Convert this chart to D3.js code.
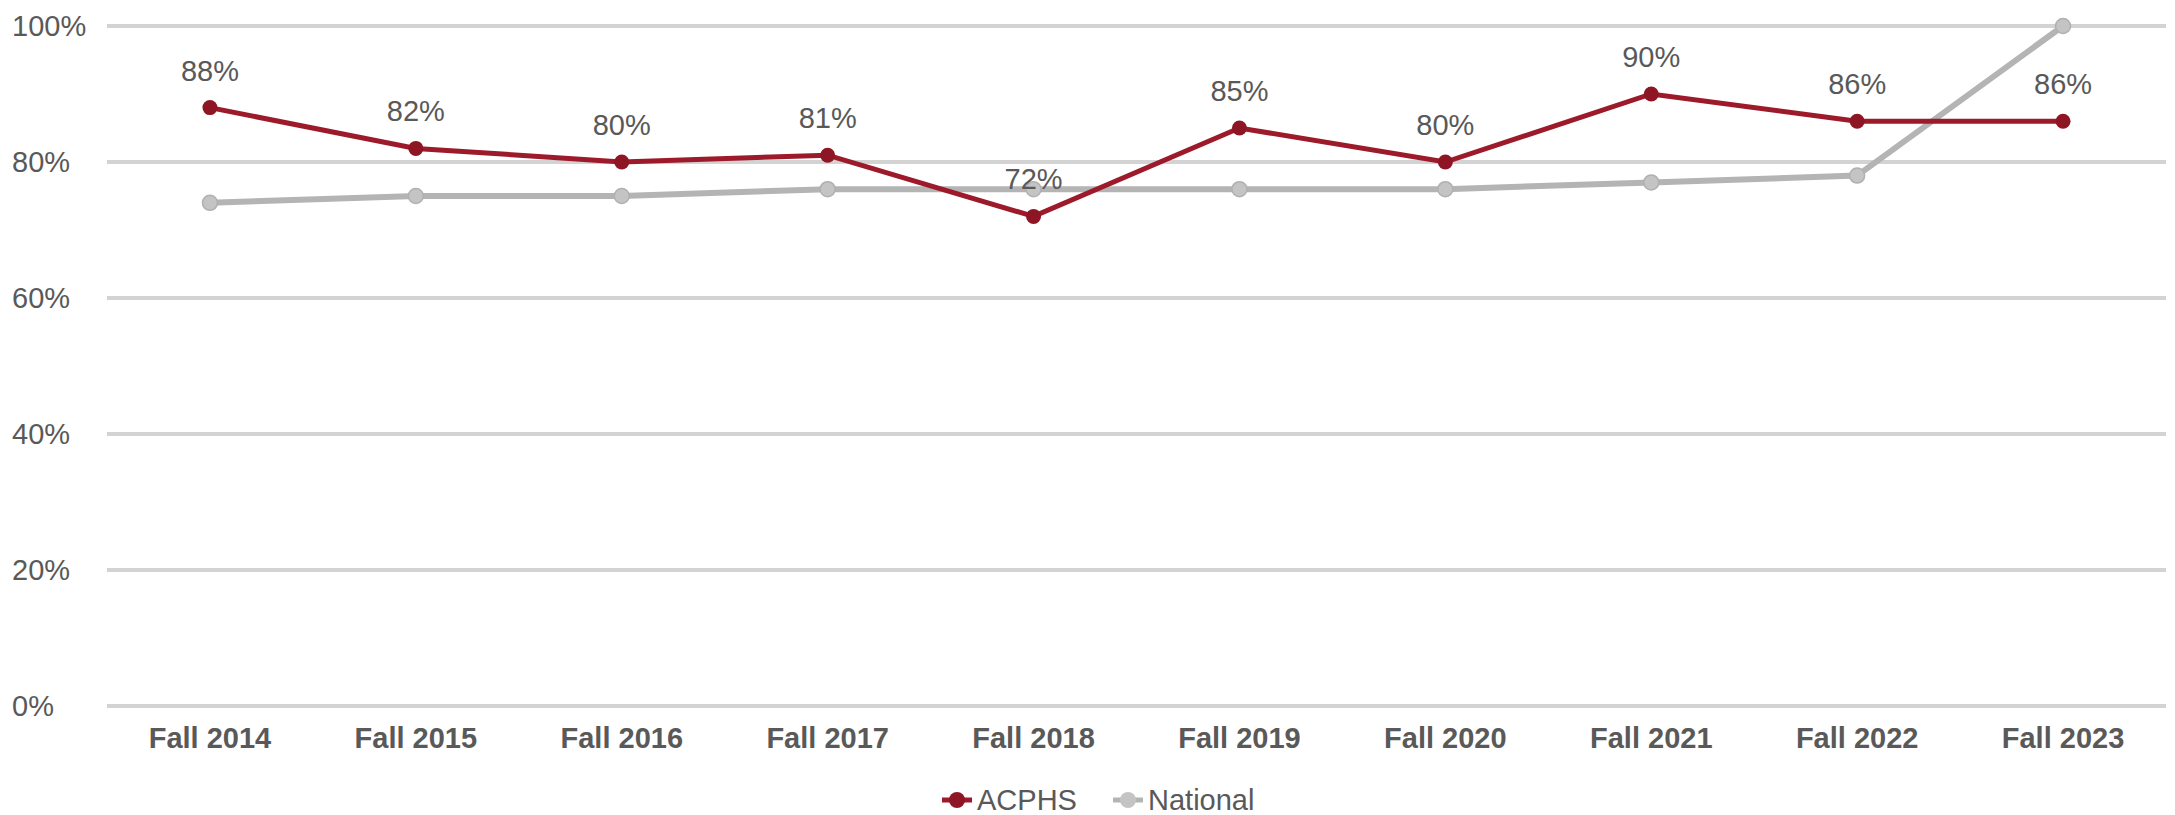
<!DOCTYPE html>
<html>
<head>
<meta charset="utf-8">
<script src="https://cdn.jsdelivr.net/npm/d3@7"></script>
<style>
  body { margin: 0; background: #fff; }
  text { font-family: "Liberation Sans", Arial, sans-serif; }
</style>
</head>
<body>
<div id="chart"></div>
<script>
// data
const terms = ["Fall 2014", "Fall 2015", "Fall 2016", "Fall 2017", "Fall 2018",
               "Fall 2019", "Fall 2020", "Fall 2021", "Fall 2022", "Fall 2023"];
const acphs = [88, 82, 80, 81, 72, 85, 80, 90, 86, 86];
const national = [74, 75, 75, 76, 76, 76, 76, 77, 78, 100];
const yTicks = [0, 20, 40, 60, 80, 100];

const W = 2175, H = 815;
const margin = { top: 26, right: 9, bottom: 109, left: 107 };
const width = W - margin.left - margin.right;
const height = H - margin.top - margin.bottom;

const red = "#9c1a2a", gray = "#b4b4b4", txt = "#595959";

const svg = d3.select("#chart").append("svg")
    .attr("width", W)
    .attr("height", H);

const g = svg.append("g")
    .attr("transform", "translate(" + margin.left + "," + margin.top + ")");

const x = d3.scaleBand().domain(terms).range([0, width]).padding(0);
const y = d3.scaleLinear().domain([0, 100]).range([height, 0]);
const cx = d => x(d) + x.bandwidth() / 2;

// gridlines
g.selectAll(".grid")
    .data(yTicks)
    .enter().append("line")
    .attr("class", "grid")
    .attr("x1", 0).attr("x2", width)
    .attr("y1", d => y(d)).attr("y2", d => y(d))
    .attr("stroke", "#d3d3d3")
    .attr("stroke-width", 4);

// y labels (left aligned like the original)
svg.selectAll(".ylab")
    .data(yTicks)
    .enter().append("text")
    .attr("class", "ylab")
    .attr("x", 12)
    .attr("y", d => margin.top + y(d))
    .attr("dy", "0.35em")
    .attr("fill", txt)
    .style("font-size", "29px")
    .text(d => d + "%");

// x labels
g.selectAll(".xlab")
    .data(terms)
    .enter().append("text")
    .attr("class", "xlab")
    .attr("x", d => cx(d))
    .attr("y", height + 42)
    .attr("text-anchor", "middle")
    .attr("fill", txt)
    .style("font-size", "29px")
    .style("font-weight", "bold")
    .text(d => d);

const line = d3.line()
    .x((d, i) => cx(terms[i]))
    .y(d => y(d));

// national series
g.append("path")
    .datum(national)
    .attr("fill", "none")
    .attr("stroke", gray)
    .attr("stroke-width", 6)
    .attr("d", line);

g.selectAll(".natdot")
    .data(national)
    .enter().append("circle")
    .attr("class", "natdot")
    .attr("cx", (d, i) => cx(terms[i]))
    .attr("cy", d => y(d))
    .attr("r", 7.5)
    .attr("fill", "#c4c4c4")
    .attr("stroke", "#b0b0b0")
    .attr("stroke-width", 1.5);

// ACPHS series
g.append("path")
    .datum(acphs)
    .attr("fill", "none")
    .attr("stroke", red)
    .attr("stroke-width", 5)
    .attr("d", line);

g.selectAll(".acdot")
    .data(acphs)
    .enter().append("circle")
    .attr("class", "acdot")
    .attr("cx", (d, i) => cx(terms[i]))
    .attr("cy", d => y(d))
    .attr("r", 7.5)
    .attr("fill", "#8e1524");

// value labels for ACPHS
g.selectAll(".vlab")
    .data(acphs)
    .enter().append("text")
    .attr("class", "vlab")
    .attr("x", (d, i) => cx(terms[i]))
    .attr("y", d => y(d) - 27)
    .attr("text-anchor", "middle")
    .attr("fill", txt)
    .style("font-size", "29px")
    .text(d => d + "%");

// legend
const legend = svg.append("g").attr("transform", "translate(0,800)");
const items = [
    { name: "ACPHS", color: red, dot: "#8e1524", x: 942 },
    { name: "National", color: gray, dot: "#c4c4c4", x: 1113 }
];
items.forEach(it => {
    legend.append("line")
        .attr("x1", it.x).attr("x2", it.x + 30)
        .attr("y1", 0).attr("y2", 0)
        .attr("stroke", it.color)
        .attr("stroke-width", 5);
    legend.append("circle")
        .attr("cx", it.x + 15).attr("cy", 0)
        .attr("r", 8)
        .attr("fill", it.dot);
    legend.append("text")
        .attr("x", it.x + 35)
        .attr("y", 0)
        .attr("dy", "0.35em")
        .attr("fill", txt)
        .style("font-size", "29px")
        .text(it.name);
});
</script>
</body>
</html>
